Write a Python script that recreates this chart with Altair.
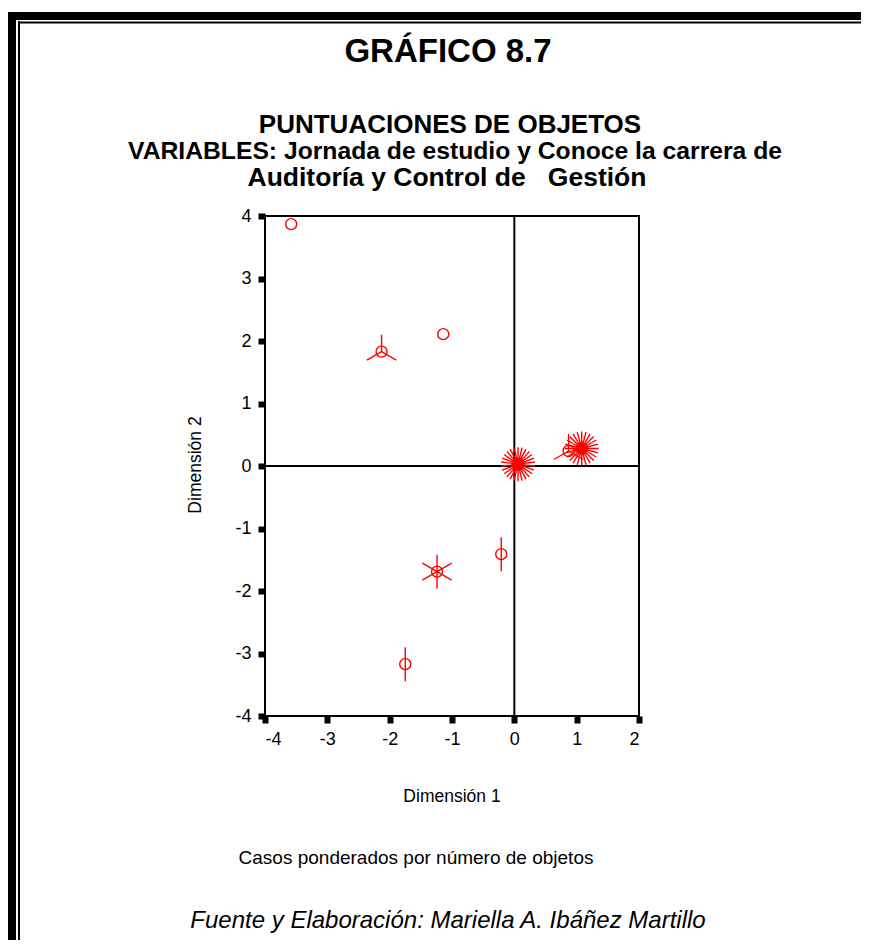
import math
import altair as alt
import pandas as pd

# ---- data ----
dim1 = [-3.58, -1.14, -2.13, 0.06, 1.08, 0.87, -0.21, -1.24, -1.75]
dim2 = [3.87, 2.11, 1.83, 0.03, 0.28, 0.24, -1.41, -1.69, -3.17]
petals = [1, 1, 3, 26, 24, 3, 2, 6, 2]

x_ticks = [-4, -3, -2, -1, 0, 1, 2]
y_ticks = [-4, -3, -2, -1, 0, 1, 2, 3, 4]

main_title = "GRÁFICO 8.7"
sub_lines = [
    "PUNTUACIONES DE OBJETOS",
    "VARIABLES: Jornada de estudio y Conoce la carrera de",
    "Auditoría y Control de \u00a0 Gestión",
]
x_title = "Dimensión 1"
y_title = "Dimensión 2"
note = "Casos ponderados por número de objetos"
source = "Fuente y Elaboración: Mariella A. Ibáñez Martillo"

# ---- layout (page px) ----
PL, PT = 265, 216          # plot origin on page
W, H = 374, 500
SVG_W, SVG_H = 853, 932
RED = "#FF0000"
FONT = "Liberation Sans"


def petal_path(n):
    segs = []
    for k in range(n):
        a = 2 * math.pi * k / n
        segs.append(f"M0,0L{math.sin(a):.3f},{-math.cos(a):.3f}")
    return "".join(segs)


df = pd.DataFrame({"d1": dim1, "d2": dim2, "n": petals})
df["path"] = [petal_path(n) if n >= 2 else "" for n in petals]

xs = alt.Scale(domain=[-4, 2], nice=False, zero=False)
ys = alt.Scale(domain=[-4, 4], nice=False, zero=False)

LBL = "'' + datum.value"
x_axis = alt.Axis(values=x_ticks, tickSize=7, tickWidth=6, tickColor="black",
                  domain=False, grid=False, labelFontSize=18, labelFont=FONT,
                  labelColor="black", labelPadding=7, title=None, labelExpr=LBL)
y_axis = alt.Axis(values=y_ticks, tickSize=7, tickWidth=6, tickColor="black",
                  domain=False, grid=False, labelFontSize=18, labelFont=FONT,
                  labelColor="black", labelPadding=7, title=None, labelExpr=LBL)

base = alt.Chart(df)

circles = base.mark_point(shape="circle", filled=False, color=RED,
                          strokeWidth=1.4, size=121, opacity=1).encode(
    x=alt.X("d1:Q", scale=xs, axis=x_axis),
    y=alt.Y("d2:Q", scale=ys, axis=y_axis),
)

petal_layer = base.transform_filter("datum.n >= 2").mark_point(
    filled=False, color=RED, strokeWidth=1.4, size=1156, opacity=1).encode(
    x=alt.X("d1:Q", scale=xs),
    y=alt.Y("d2:Q", scale=ys),
    shape=alt.Shape("path:N", scale=None, legend=None),
)

zero_v = alt.Chart(pd.DataFrame({"v": [0]})).mark_rule(color="black", strokeWidth=2).encode(
    x=alt.X("v:Q", scale=xs))
zero_h = alt.Chart(pd.DataFrame({"v": [0]})).mark_rule(color="black", strokeWidth=2).encode(
    y=alt.Y("v:Q", scale=ys))


def text_layer(txt, cx, cy, size, weight="normal", style="normal", angle=0):
    return alt.Chart(pd.DataFrame({"t": [txt]})).mark_text(
        font=FONT, fontSize=size, fontWeight=weight, fontStyle=style,
        color="black", align="center", baseline="middle", angle=angle).encode(
        x=alt.value(cx - PL), y=alt.value(cy - PT), text="t:N")


texts = [
    text_layer(main_title, 448, 52, 33, "bold"),
    text_layer(sub_lines[0], 450, 125, 26, "bold"),
    text_layer(sub_lines[1], 455, 152, 24.7, "bold"),
    text_layer(sub_lines[2], 447, 178, 26.5, "bold"),
    text_layer(x_title, 452, 797, 17.5),
    text_layer(y_title, 196, 465, 17.5, angle=270),
    text_layer(note, 416, 858, 19),
    text_layer(source, 448, 921, 24, style="italic"),
]

one = pd.DataFrame({"a": [0]})


def border(**enc):
    sw = enc.pop("sw")
    return alt.Chart(one).mark_rule(color="black", strokeWidth=sw).encode(**enc)


BOTTOM = 8 + SVG_H - PT
RIGHT = 8 + SVG_W - PL
borders = [
    border(x=alt.value(12 - PL), y=alt.value(12 - PT), y2=alt.value(BOTTOM), sw=8),
    border(y=alt.value(16 - PT), x=alt.value(8 - PL), x2=alt.value(RIGHT), sw=8),
    border(x=alt.value(19 - PL), y=alt.value(21 - PT), y2=alt.value(BOTTOM), sw=2),
    border(y=alt.value(22.5 - PT), x=alt.value(18 - PL), x2=alt.value(RIGHT), sw=2),
]

chart = alt.layer(zero_v, zero_h, petal_layer, circles, *texts, *borders).properties(
    width=W, height=H,
    autosize=alt.AutoSizeParams(type="none"),
    padding={"left": PL - 8, "top": PT - 8, "right": SVG_W - (PL - 8) - W,
             "bottom": SVG_H - (PT - 8) - H},
    background="white",
).configure_view(stroke="black", strokeWidth=2)

chart.save("out.html", embed_options={"renderer": "svg", "actions": False})
